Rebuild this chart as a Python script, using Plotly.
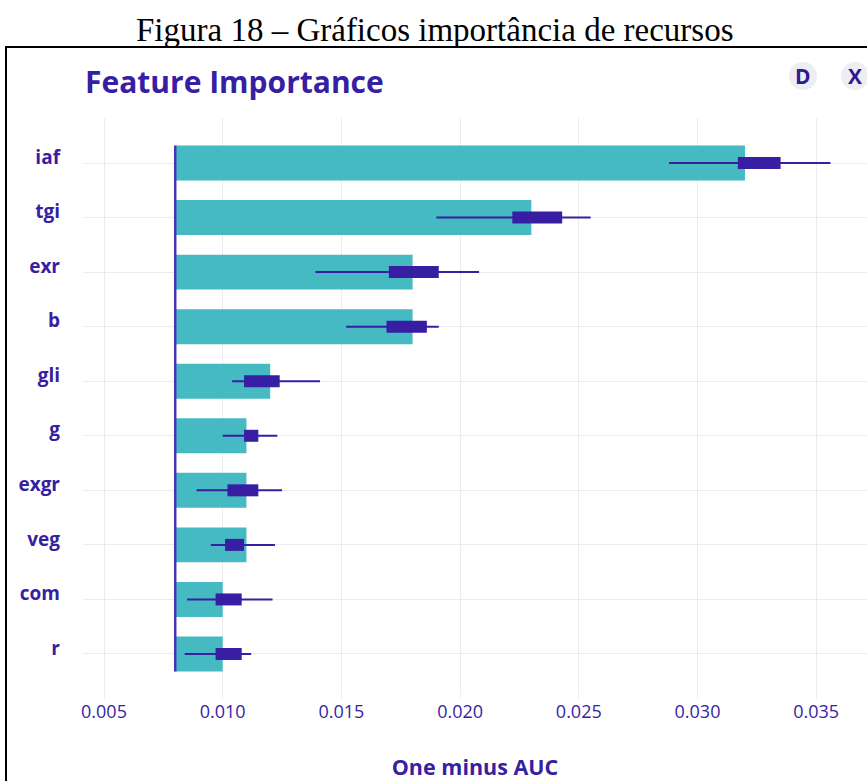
import plotly.graph_objects as go

features = ["iaf", "tgi", "exr", "b", "gli", "g", "exgr", "veg", "com", "r"]
importance = [0.0320, 0.0230, 0.0180, 0.0180, 0.0120, 0.0110, 0.0110, 0.0110, 0.0100, 0.0100]
full_model_loss = 0.008
whisker_min = [0.0288, 0.0190, 0.0139, 0.0152, 0.0104, 0.0100, 0.0089, 0.0095, 0.0085, 0.0084]
whisker_max = [0.0356, 0.0255, 0.0208, 0.0191, 0.0141, 0.0123, 0.0125, 0.0122, 0.0121, 0.0112]
q1 = [0.0317, 0.0222, 0.0170, 0.0169, 0.0109, 0.0109, 0.0102, 0.0101, 0.0097, 0.0097]
q3 = [0.0335, 0.0243, 0.0191, 0.0186, 0.0124, 0.0115, 0.0115, 0.0109, 0.0108, 0.0108]
x_ticks = [0.005, 0.010, 0.015, 0.020, 0.025, 0.030, 0.035]

W, H = 867, 781
L, R, T, B = 83, 867, 118, 690
X0 = 0.005 - (104 - L) / 23740
X1 = 0.005 + (R - 104) / 23740

def px(x):
    return (x - L) / (R - L)

def py(y):
    return (B - y) / (B - T)

PURPLE = "#371ea3"
TEAL = "#46bac2"
GRID = "#ebebf0"
FONT = "Open Sans, sans-serif"

fig = go.Figure()
fig.add_trace(go.Bar(
    orientation="h", y=features, x=[v - full_model_loss for v in importance],
    base=full_model_loss, width=0.64, marker=dict(color=TEAL, line=dict(width=0)),
    hoverinfo="skip"))

wx, wy = [], []
for f, a, b in zip(features, whisker_min, whisker_max):
    wx += [a, b, None]
    wy += [f, f, None]
fig.add_trace(go.Scatter(x=wx, y=wy, mode="lines", line=dict(color=PURPLE, width=2),
                         hoverinfo="skip"))
fig.add_trace(go.Bar(
    orientation="h", y=features, x=[b - a for a, b in zip(q1, q3)], base=q1,
    width=0.22, marker=dict(color=PURPLE, line=dict(width=0)), hoverinfo="skip"))

fig.add_shape(type="line", xref="x", yref="y", x0=full_model_loss, x1=full_model_loss,
              y0=-0.32, y1=len(features) - 1 + 0.32,
              line=dict(color="#4a33b0", width=2.5), layer="above")

# decorations: document border, buttons
fig.add_shape(type="rect", xref="paper", yref="paper", x0=px(6), x1=px(880), y0=py(47), y1=py(800),
              line=dict(color="black", width=2), fillcolor="rgba(0,0,0,0)", layer="above")
for cx, letter in [(803, "D"), (855, "X")]:
    r = 14
    fig.add_shape(type="circle", xref="paper", yref="paper", x0=px(cx - r), x1=px(cx + r),
                  y0=py(76 + r), y1=py(76 - r), fillcolor="#eeedf4", line=dict(width=0))
    fig.add_annotation(xref="paper", yref="paper", x=px(cx), y=py(76), text="<b>" + letter + "</b>",
                       showarrow=False, xanchor="center", yanchor="middle",
                       font=dict(family=FONT, size=21, color="#2f1a8f"))

fig.add_annotation(xref="paper", yref="paper", x=px(434), y=py(30),
                   text="Figura 18 – Gráficos importância de recursos", showarrow=False,
                   xanchor="center", yanchor="middle",
                   font=dict(family="Liberation Serif, Times New Roman, serif", size=33, color="black"))

fig.update_layout(
    width=W, height=H, margin=dict(l=L, r=W - R, t=T, b=H - B),
    paper_bgcolor="white", plot_bgcolor="white", showlegend=False, barmode="overlay",
    title=dict(text="<b>Feature Importance</b>", x=85 / W, xanchor="left", xref="container",
               y=1 - 82 / H, yanchor="middle", yref="container",
               font=dict(family=FONT, size=30, color=PURPLE)),
    xaxis=dict(range=[X0, X1], tickvals=x_ticks, tickformat=".3f", showgrid=True, gridcolor=GRID,
               zeroline=False, showline=False, ticks="outside", ticklen=8, tickcolor=GRID,
               ticklabelstandoff=-3, automargin=False,
               tickfont=dict(family=FONT, size=18, color=PURPLE),
               title=dict(text="<b>One minus AUC</b>", standoff=48,
                          font=dict(family=FONT, size=21.5, color=PURPLE))),
    yaxis=dict(type="category", categoryorder="array", categoryarray=features,
               range=[9.66, -0.825], showgrid=True, gridcolor=GRID, zeroline=False, showline=False,
               ticks="", ticklabelstandoff=22, ticklabelshift=6, automargin=False,
               tickfont=dict(family=FONT, size=19, color=PURPLE, weight="bold")),
)

fig.write_html("out.html", config={"displayModeBar": False},
               post_script="document.body.style.margin='0';")
